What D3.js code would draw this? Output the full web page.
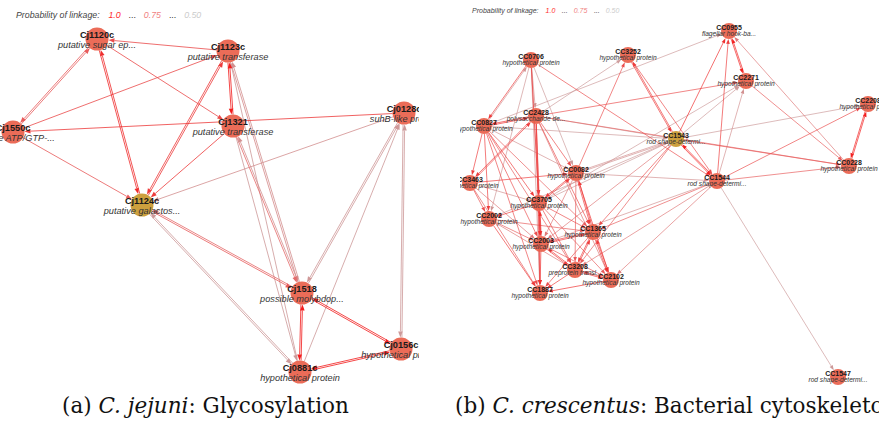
<!DOCTYPE html>
<html>
<head>
<meta charset="utf-8">
<script src="https://cdn.jsdelivr.net/npm/d3@7/dist/d3.min.js"></script>
<style>
  body { margin: 0; background: #fff; }
  svg { display: block; }
</style>
</head>
<body>
<svg id="chart" width="879" height="422"></svg>
<script>
// ---- Panel (a): C. jejuni glycosylation network ----
const jejuniNodes = ["Cj1120c", "Cj1123c", "Cj1550c", "Cj1321", "Cj0128c", "Cj1124c", "Cj1518", "Cj0156c", "Cj0881c"];
const jejuniDesc = ["putative sugar ep...", "putative transferase", "putative ATP/GTP-...", "putative transferase",
  "suhB-like protein", "putative galactos...", "possible molybdop...", "hypothetical protein", "hypothetical protein"];
const jejuniX = [97, 228, 13, 233, 404, 142, 302, 401, 300];
const jejuniY = [39, 51, 132, 126, 113, 205, 293, 349, 372];
const jejuniQuery = ["Cj1124c"];
// [source, target, probability of linkage]
const jejuniLinks = [
  ["Cj1123c", "Cj1120c", 0.85], ["Cj1120c", "Cj1550c", 0.8], ["Cj1550c", "Cj1120c", 0.8],
  ["Cj1120c", "Cj1321", 0.85], ["Cj1120c", "Cj1124c", 0.95], ["Cj1124c", "Cj1120c", 0.95],
  ["Cj1550c", "Cj1123c", 0.85], ["Cj1123c", "Cj1321", 1.0], ["Cj1321", "Cj1123c", 1.0],
  ["Cj1124c", "Cj1123c", 0.9], ["Cj1123c", "Cj1124c", 0.9], ["Cj1321", "Cj1124c", 0.9],
  ["Cj0128c", "Cj1550c", 0.9], ["Cj1550c", "Cj1124c", 0.8], ["Cj0128c", "Cj1124c", 0.6],
  ["Cj1124c", "Cj1518", 0.8], ["Cj1518", "Cj1124c", 0.75], ["Cj0881c", "Cj1124c", 0.56],
  ["Cj1124c", "Cj0881c", 0.56], ["Cj1518", "Cj1123c", 0.6], ["Cj1123c", "Cj1518", 0.62],
  ["Cj0881c", "Cj1123c", 0.56], ["Cj1321", "Cj1518", 0.75], ["Cj1518", "Cj1321", 0.6],
  ["Cj1321", "Cj0881c", 0.56], ["Cj0128c", "Cj1518", 0.57], ["Cj1518", "Cj0128c", 0.57],
  ["Cj0881c", "Cj0128c", 0.56], ["Cj0128c", "Cj0156c", 0.56], ["Cj0156c", "Cj0128c", 0.56],
  ["Cj1518", "Cj0156c", 1.0], ["Cj0156c", "Cj1518", 1.0], ["Cj1518", "Cj0881c", 1.0],
  ["Cj0881c", "Cj1518", 1.0], ["Cj0881c", "Cj0156c", 1.0], ["Cj0156c", "Cj0881c", 1.0]
];

// ---- Panel (b): C. crescentus bacterial cytoskeleton network ----
const crescNodes = ["CC0955", "CC3252", "CC0706", "CC2271", "CC2428", "CC0827", "CC2208", "CC1543", "CC0228",
  "CC1544", "CC0082", "CC3463", "CC3705", "CC2002", "CC1365", "CC2003", "CC3208", "CC2102", "CC1887", "CC1547"];
const crescDesc = ["flagellar hook-ba...", "hypothetical protein", "hypothetical protein", "hypothetical protein",
  "polysaccharide de...", "hypothetical protein", "hypothetical protein", "rod shape-determi...", "hypothetical protein",
  "rod shape-determi...", "hypothetical protein", "hypothetical protein", "hypothetical protein", "hypothetical protein",
  "hypothetical protein", "hypothetical protein", "preprotein transl...", "hypothetical protein", "hypothetical protein",
  "rod shape-determi..."];
const crescX = [729, 628, 531, 746, 536, 484, 868, 676, 849, 717, 576, 470, 539, 489, 593, 541, 575, 611, 540, 838];
const crescY = [31, 55, 60, 81, 116, 126, 104, 139, 166, 181, 173, 183, 203, 219, 232, 244, 270, 280, 293, 377];
const crescQuery = ["CC1543"];
const crescLinks = [
  ["CC0955", "CC2271", 1.0], ["CC2271", "CC0955", 1.0], ["CC1543", "CC0955", 0.95], ["CC1544", "CC0955", 0.9],
  ["CC0228", "CC0955", 0.7], ["CC0827", "CC0955", 0.56], ["CC2271", "CC0228", 0.8], ["CC2428", "CC2271", 0.85],
  ["CC1543", "CC2271", 0.56], ["CC3705", "CC2271", 0.56], ["CC1544", "CC2271", 0.6],
  ["CC2208", "CC0228", 1.0], ["CC0228", "CC2208", 1.0], ["CC1543", "CC2208", 0.56], ["CC1544", "CC2208", 0.85],
  ["CC1543", "CC0228", 0.8], ["CC1544", "CC0228", 0.8], ["CC2428", "CC0228", 0.78],
  ["CC1543", "CC1544", 1.0], ["CC1544", "CC1543", 1.0], ["CC1544", "CC1547", 0.56],
  ["CC3252", "CC1543", 0.9], ["CC1543", "CC3252", 0.9], ["CC3252", "CC1544", 0.85], ["CC0082", "CC3252", 0.85],
  ["CC2428", "CC3252", 0.56], ["CC0706", "CC1544", 0.85], ["CC0706", "CC0827", 0.9], ["CC0827", "CC0706", 0.6],
  ["CC0706", "CC2428", 0.6], ["CC0706", "CC3705", 0.9], ["CC0706", "CC2003", 0.7], ["CC0706", "CC1887", 0.6],
  ["CC0706", "CC0082", 0.56], ["CC0706", "CC2002", 0.58],
  ["CC2428", "CC0827", 0.95], ["CC0827", "CC2428", 0.95], ["CC2428", "CC1543", 0.56], ["CC0827", "CC1543", 0.56],
  ["CC0827", "CC3463", 0.9], ["CC0827", "CC2002", 0.9], ["CC0827", "CC3705", 0.9], ["CC0827", "CC2003", 0.85],
  ["CC0827", "CC1887", 0.85], ["CC0827", "CC1365", 0.8], ["CC0827", "CC3208", 0.8], ["CC0827", "CC0082", 0.6],
  ["CC2428", "CC3463", 0.9], ["CC3463", "CC2428", 0.9], ["CC2428", "CC0082", 0.85], ["CC2428", "CC3705", 0.9],
  ["CC2428", "CC2003", 0.9], ["CC2428", "CC1887", 0.85], ["CC2428", "CC1365", 0.85], ["CC2428", "CC2102", 0.7],
  ["CC0082", "CC1543", 0.6], ["CC0082", "CC1544", 0.6], ["CC0082", "CC3705", 0.9], ["CC3705", "CC0082", 0.9],
  ["CC0082", "CC1365", 0.9], ["CC1365", "CC0082", 0.9], ["CC0082", "CC2102", 0.95], ["CC0082", "CC3208", 0.8],
  ["CC3463", "CC0082", 0.9], ["CC0082", "CC2003", 0.7],
  ["CC3463", "CC2002", 0.85], ["CC3463", "CC1887", 0.8], ["CC3463", "CC2003", 0.7], ["CC3463", "CC3705", 0.6],
  ["CC3705", "CC2002", 0.9], ["CC3705", "CC2003", 0.95], ["CC2003", "CC3705", 0.95], ["CC3705", "CC1887", 0.9],
  ["CC3705", "CC1365", 0.85], ["CC3705", "CC3208", 0.85], ["CC3705", "CC2102", 0.8],
  ["CC2002", "CC1365", 0.8], ["CC2002", "CC1887", 0.9], ["CC2002", "CC3208", 0.7], ["CC2002", "CC2003", 0.8],
  ["CC1365", "CC2003", 0.9], ["CC2003", "CC1365", 0.9], ["CC1365", "CC3208", 0.9], ["CC3208", "CC1365", 0.9],
  ["CC1365", "CC1887", 0.85], ["CC1365", "CC2102", 0.9], ["CC2102", "CC1365", 0.9],
  ["CC1543", "CC1365", 0.85], ["CC1543", "CC3208", 0.8], ["CC1543", "CC2003", 0.7], ["CC1543", "CC3705", 0.56],
  ["CC1543", "CC0082", 0.6], ["CC1543", "CC2002", 0.56],
  ["CC1544", "CC1365", 0.8], ["CC1544", "CC2102", 0.7], ["CC1544", "CC3208", 0.7], ["CC1544", "CC2003", 0.6],
  ["CC2003", "CC3208", 0.9], ["CC3208", "CC2003", 0.9], ["CC2003", "CC1887", 0.95], ["CC2003", "CC2102", 0.8],
  ["CC3208", "CC1887", 0.9], ["CC3208", "CC2102", 0.9], ["CC2102", "CC3208", 0.9], ["CC2102", "CC1887", 0.95]
];

// Legend entries and panel captions
const legendValues = [1.0, 0.75, 0.5];
const legendLabels = ["1.0", "0.75", "0.50"];
const captions = [
  [{ t: "(a) ", i: false }, { t: "C. jejuni", i: true }, { t: ": Glycosylation", i: false }],
  [{ t: "(b) ", i: false }, { t: "C. crescentus", i: true }, { t: ": Bacterial cytoskeleton", i: false }]
];

const svg = d3.select("#chart");
const defs = svg.append("defs");

// probability of linkage -> edge colour
const edgeColor = d3.scaleLinear()
  .domain([0.5, 0.75, 1.0])
  .range(["#c6a9a9", "#e56b6b", "#f21d1d"])
  .interpolate(d3.interpolateRgb);
const legendColor = d3.scaleLinear()
  .domain([0.5, 0.75, 1.0])
  .range(["#cccccc", "#f07f7f", "#ff2b2b"]);

function drawPanel(cfg) {
  const clipId = "clip-" + cfg.key;
  defs.append("clipPath").attr("id", clipId)
    .append("rect")
    .attr("x", cfg.clip[0]).attr("y", 0)
    .attr("width", cfg.clip[1] - cfg.clip[0]).attr("height", 392);

  const g = svg.append("g").attr("clip-path", `url(#${clipId})`);

  const x = d3.scaleLinear().domain(cfg.xDomain).range(cfg.xDomain);
  const y = d3.scaleLinear().domain(cfg.yDomain).range(cfg.yDomain);

  const nodes = cfg.names.map((n, i) => ({
    id: n, desc: cfg.desc[i], px: x(cfg.xs[i]), py: y(cfg.ys[i]), query: cfg.query.includes(n)
  }));
  const byId = new Map(nodes.map(d => [d.id, d]));
  const pairs = new Set(cfg.links.map(l => l[0] + "|" + l[1]));

  const links = cfg.links.map(([s, t, p]) => {
    const a = byId.get(s), b = byId.get(t);
    const dx = b.px - a.px, dy = b.py - a.py;
    const len = Math.hypot(dx, dy);
    const ux = dx / len, uy = dy / len;
    const off = pairs.has(t + "|" + s) ? cfg.pairOffset : 0;
    const ox = -uy * off, oy = ux * off;
    const x1 = a.px + ux * cfg.r + ox, y1 = a.py + uy * cfg.r + oy;
    const tx = b.px - ux * cfg.r + ox, ty = b.py - uy * cfg.r + oy;
    const bx = tx - ux * cfg.arrowLen, by = ty - uy * cfg.arrowLen;
    const hw = cfg.arrowW / 2;
    return {
      p, x1, y1, x2: bx, y2: by,
      head: [[tx, ty], [bx - uy * hw, by + ux * hw], [bx + uy * hw, by - ux * hw]]
    };
  }).sort((a, b) => a.p - b.p);

  const eg = g.append("g");
  eg.selectAll("line").data(links).join("line")
    .attr("x1", d => d.x1).attr("y1", d => d.y1)
    .attr("x2", d => d.x2).attr("y2", d => d.y2)
    .attr("stroke", d => edgeColor(d.p))
    .attr("stroke-width", cfg.strokeW)
    .attr("stroke-opacity", 0.9);
  eg.selectAll("path").data(links).join("path")
    .attr("d", d => "M" + d.head.map(q => q.join(",")).join("L") + "Z")
    .attr("fill", d => edgeColor(d.p));

  g.append("g").selectAll("circle").data(nodes).join("circle")
    .attr("cx", d => d.px).attr("cy", d => d.py).attr("r", cfg.r)
    .attr("fill", d => d.query ? "#c9982e" : "#e9604a")
    .attr("fill-opacity", 0.92);

  const lg = g.append("g").attr("text-anchor", "middle")
    .style("font-family", "'Liberation Sans', Arial, sans-serif");
  lg.selectAll("text.name").data(nodes).join("text").attr("class", "name")
    .attr("x", d => d.px).attr("y", d => d.py + cfg.nameDy)
    .attr("font-size", cfg.nameSize).attr("font-weight", "bold").attr("fill", "#1a1a1a")
    .text(d => d.id);
  lg.selectAll("text.desc").data(nodes).join("text").attr("class", "desc")
    .attr("x", d => d.px).attr("y", d => d.py + cfg.descDy)
    .attr("font-size", cfg.descSize).attr("font-style", "italic").attr("fill", "#333")
    .text(d => d.desc);

  // legend
  const leg = svg.append("text")
    .attr("x", cfg.legend[0]).attr("y", cfg.legend[1])
    .attr("font-size", cfg.legendSize).attr("font-style", "italic")
    .style("font-family", "'Liberation Sans', Arial, sans-serif");
  leg.append("tspan").attr("fill", "#444").text("Probability of linkage:");
  legendValues.forEach((v, i) => {
    leg.append("tspan").attr("dx", cfg.legendSize * (i === 0 ? 1.0 : 0.9))
      .attr("fill", legendColor(v)).text(legendLabels[i]);
    if (i < legendValues.length - 1)
      leg.append("tspan").attr("dx", cfg.legendSize * 0.9).attr("fill", "#333").attr("font-style", "normal").text("...");
  });

  // caption
  const cap = svg.append("text")
    .attr("x", cfg.caption[0]).attr("y", cfg.caption[1])
    .attr("font-size", 21.5).attr("fill", "#111")
    .style("font-family", "'DejaVu Serif', serif");
  cfg.captionParts.forEach(part => {
    cap.append("tspan").attr("font-style", part.i ? "italic" : "normal").text(part.t);
  });
}

drawPanel({
  key: "a", names: jejuniNodes, desc: jejuniDesc, xs: jejuniX, ys: jejuniY, query: jejuniQuery,
  links: jejuniLinks, xDomain: [0, 440], yDomain: [0, 392], clip: [0, 419],
  r: 11.5, arrowLen: 6, arrowW: 4.5, strokeW: 0.9, pairOffset: 0.8,
  nameSize: 9.2, descSize: 9.2, nameDy: -1, descDy: 8.5,
  legend: [16, 18], legendSize: 8.8, caption: [62, 413], captionParts: captions[0]
});

drawPanel({
  key: "b", names: crescNodes, desc: crescDesc, xs: crescX, ys: crescY, query: crescQuery,
  links: crescLinks, xDomain: [440, 879], yDomain: [0, 392], clip: [460, 879],
  r: 8, arrowLen: 5, arrowW: 3.6, strokeW: 0.75, pairOffset: 0.6,
  nameSize: 7, descSize: 6.6, nameDy: -1.5, descDy: 5,
  legend: [472, 13], legendSize: 7, caption: [455, 413], captionParts: captions[1]
});
</script>
</body>
</html>
